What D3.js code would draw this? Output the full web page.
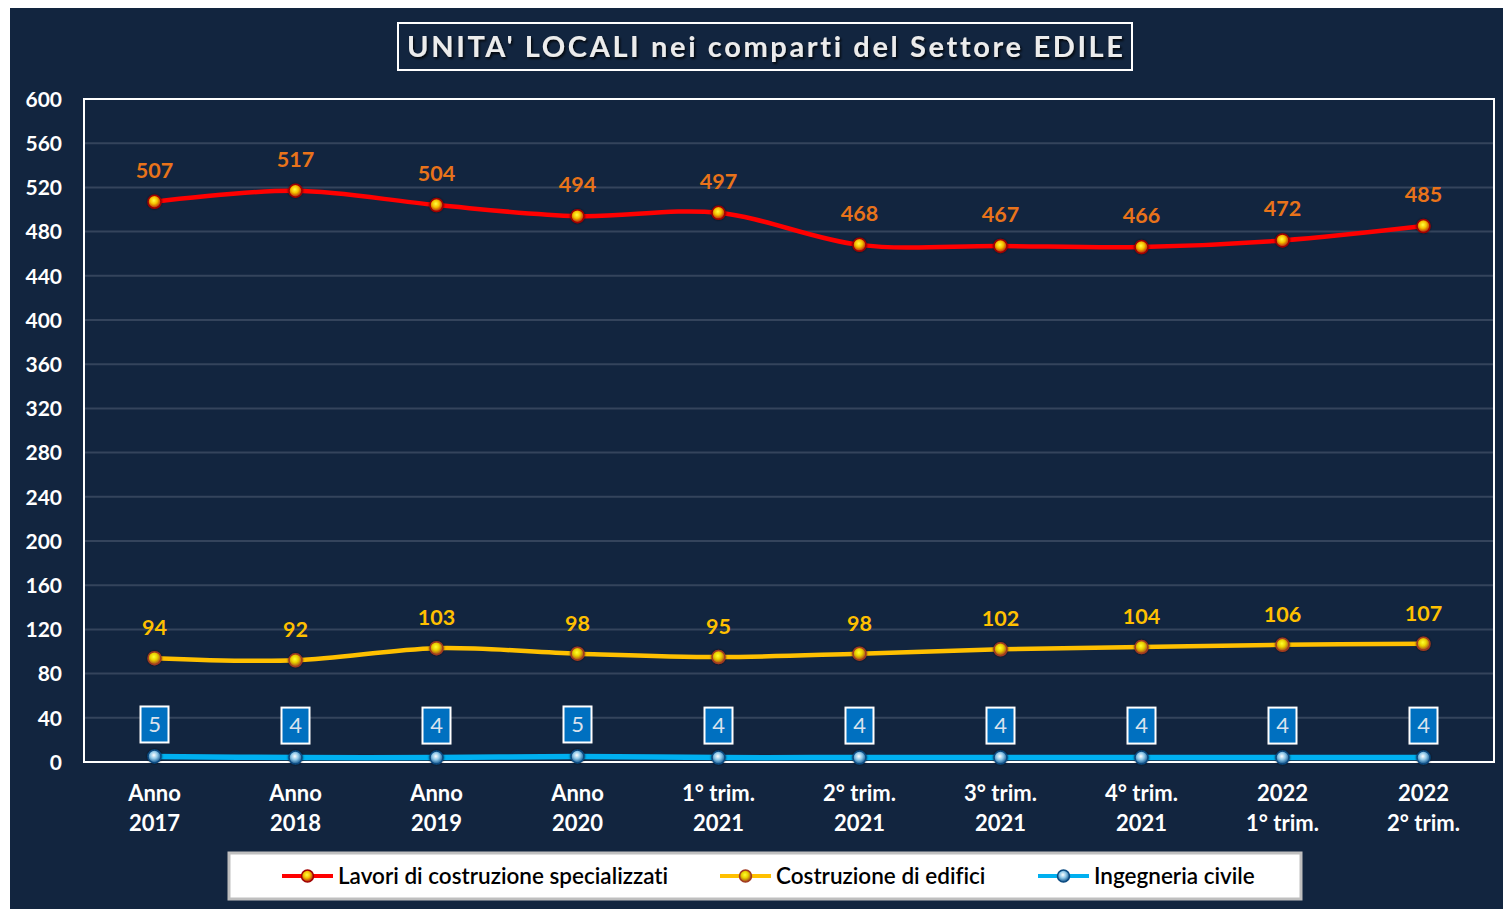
<!DOCTYPE html>
<html><head><meta charset="utf-8">
<script src="https://cdn.jsdelivr.net/npm/d3@7"></script>
<style>
html,body{margin:0;padding:0;background:#fff;}
svg{display:block;}
text{font-family:Lato,"Open Sans",sans-serif;font-variant-ligatures:none;}
</style></head>
<body>
<svg id="chart" width="1503" height="909"></svg>
<script>
const categories = [["Anno","2017"],["Anno","2018"],["Anno","2019"],["Anno","2020"],["1° trim.","2021"],["2° trim.","2021"],["3° trim.","2021"],["4° trim.","2021"],["2022","1° trim."],["2022","2° trim."]];
const lavori = [507,517,504,494,497,468,467,466,472,485];
const costruzione = [94,92,103,98,95,98,102,104,106,107];
const ingegneria = [5,4,4,5,4,4,4,4,4,4];
const yTicks = [0,40,80,120,160,200,240,280,320,360,400,440,480,520,560,600];
const seriesNames = ["Lavori di costruzione specializzati","Costruzione di edifici","Ingegneria civile"];
const titleText = "UNITA' LOCALI nei comparti del Settore EDILE";

const svg = d3.select("#chart");
const W=1503,H=909;
const bg="#12253f";
svg.append("rect").attr("x",10).attr("y",8).attr("width",W-10).attr("height",H-8).attr("fill",bg);

const defs = svg.append("defs");
const g1 = defs.append("radialGradient").attr("id","gRed").attr("cx","45%").attr("cy","40%").attr("r","60%");
g1.append("stop").attr("offset","0%").attr("stop-color","#ffff40");
g1.append("stop").attr("offset","45%").attr("stop-color","#f5c000");
g1.append("stop").attr("offset","100%").attr("stop-color","#b01010");
const g2 = defs.append("radialGradient").attr("id","gYel").attr("cx","45%").attr("cy","40%").attr("r","60%");
g2.append("stop").attr("offset","0%").attr("stop-color","#ffff30");
g2.append("stop").attr("offset","45%").attr("stop-color","#e8d000");
g2.append("stop").attr("offset","100%").attr("stop-color","#a03a20");
const g3 = defs.append("radialGradient").attr("id","gBlu").attr("cx","45%").attr("cy","40%").attr("r","60%");
g3.append("stop").attr("offset","0%").attr("stop-color","#ffffff");
g3.append("stop").attr("offset","45%").attr("stop-color","#8fc8e8");
g3.append("stop").attr("offset","100%").attr("stop-color","#0b4f8a");
const sh = defs.append("filter").attr("id","tshadow").attr("x","-10%").attr("y","-30%").attr("width","120%").attr("height","160%");
sh.append("feDropShadow").attr("dx",1.5).attr("dy",2).attr("stdDeviation",1.2).attr("flood-color","#000").attr("flood-opacity",0.8);
const mh = defs.append("filter").attr("id","mglow").attr("x","-50%").attr("y","-50%").attr("width","200%").attr("height","200%");
mh.append("feDropShadow").attr("dx",0).attr("dy",0).attr("stdDeviation",1.2).attr("flood-color","#000").attr("flood-opacity",0.7);

const L=84,R=1494,T=99,B=762;
const x = d3.scaleBand().domain(d3.range(categories.length)).range([L,R]);
const cx = i => x(i)+x.bandwidth()/2;
const y = d3.scaleLinear().domain([0,600]).range([B,T]);

// gridlines
svg.append("g").selectAll("line").data(yTicks.filter(t=>t>0&&t<600)).join("line")
  .attr("x1",L).attr("x2",R).attr("y1",d=>y(d)).attr("y2",d=>y(d))
  .attr("stroke","#34445c").attr("stroke-width",2);

// y axis labels
const yAxis = d3.axisLeft(y).tickValues(yTicks).tickSize(0).tickPadding(22);
const ya = svg.append("g").attr("transform",`translate(${L},0)`).call(yAxis);
ya.select(".domain").remove();
ya.selectAll("text").attr("fill","#fff").attr("font-size",21).attr("font-weight","bold").attr("dy","0.35em");

// plot frame
svg.append("rect").attr("x",L).attr("y",T).attr("width",R-L).attr("height",B-T)
  .attr("fill","none").attr("stroke","#fff").attr("stroke-width",2);

// x labels
const xa = svg.append("g");
categories.forEach((c,i)=>{
  const t = xa.append("text").attr("x",cx(i)).attr("y",801).attr("text-anchor","middle")
    .attr("fill","#fff").attr("font-size",22).attr("font-weight","bold");
  t.append("tspan").attr("x",cx(i)).text(c[0]);
  t.append("tspan").attr("x",cx(i)).attr("dy",30).text(c[1]);
});

const curve = d3.curveCardinal.tension(0);
const line = d3.line().x((d,i)=>cx(i)).y(d=>y(d)).curve(curve);

function drawSeries(data,color,width,grad,stroke){
  svg.append("path").datum(data).attr("d",line).attr("fill","none").attr("stroke",color).attr("stroke-width",width);
  svg.append("g").selectAll("circle").data(data).join("circle")
    .attr("cx",(d,i)=>cx(i)).attr("cy",d=>y(d)).attr("r",6.5)
    .attr("fill",`url(#${grad})`).attr("stroke",stroke).attr("stroke-width",1.5).attr("filter","url(#mglow)");
}
drawSeries(ingegneria,"#00b0f0",5.5,"gBlu","#0a4a80");
drawSeries(costruzione,"#ffc000",4.5,"gYel","#a03a20");
drawSeries(lavori,"#ff0000",4.5,"gRed","#a00000");

// labels
svg.append("g").selectAll("text").data(lavori).join("text")
  .attr("x",(d,i)=>cx(i)).attr("y",d=>y(d)-24).attr("text-anchor","middle")
  .attr("fill","#e9731a").attr("font-size",21.5).attr("font-weight","bold").text(d=>d);
svg.append("g").selectAll("text").data(costruzione).join("text")
  .attr("x",(d,i)=>cx(i)).attr("y",d=>y(d)-23).attr("text-anchor","middle")
  .attr("fill","#ffc000").attr("font-size",21.5).attr("font-weight","bold").text(d=>d);
const bl = svg.append("g").selectAll("g").data(ingegneria).join("g")
  .attr("transform",(d,i)=>`translate(${cx(i)},${y(d)-32})`);
bl.append("rect").attr("x",-14).attr("y",-18).attr("width",28).attr("height",36)
  .attr("fill","#0070c0").attr("stroke","#fff").attr("stroke-width",2);
bl.append("text").attr("text-anchor","middle").attr("dy","0.35em").attr("fill","#d9e2ee")
  .attr("font-size",22).text(d=>d);

// title
svg.append("rect").attr("x",398).attr("y",23).attr("width",734).attr("height",47)
  .attr("fill","none").attr("stroke","#fff").attr("stroke-width",2);
svg.append("text").attr("x",407).attr("y",47).attr("dy","0.36em").attr("text-anchor","start")
  .attr("fill","#ececec").attr("font-size",29).attr("font-weight","bold")
  .attr("textLength",716).attr("lengthAdjust","spacing")
  .attr("filter","url(#tshadow)").text(titleText);

// legend
svg.append("rect").attr("x",229).attr("y",853).attr("width",1072).attr("height",46)
  .attr("fill","#fff").attr("stroke","#bfbfbf").attr("stroke-width",3);
const legItems = [
  {x:282,color:"#ff0000",grad:"gRed",stroke:"#a00000"},
  {x:720,color:"#ffc000",grad:"gYel",stroke:"#a03a20"},
  {x:1038,color:"#00b0f0",grad:"gBlu",stroke:"#0a4a80"}
];
legItems.forEach((it,i)=>{
  const g = svg.append("g").attr("transform",`translate(${it.x},876)`);
  g.append("line").attr("x1",0).attr("x2",51).attr("stroke",it.color).attr("stroke-width",4);
  g.append("circle").attr("cx",25.5).attr("r",6).attr("fill",`url(#${it.grad})`).attr("stroke",it.stroke).attr("stroke-width",1.5);
  g.append("text").attr("x",56).attr("dy","0.35em").attr("fill","#000").attr("font-size",22.5)
    .attr("font-weight",600).text(seriesNames[i]);
});
</script>
</body></html>
